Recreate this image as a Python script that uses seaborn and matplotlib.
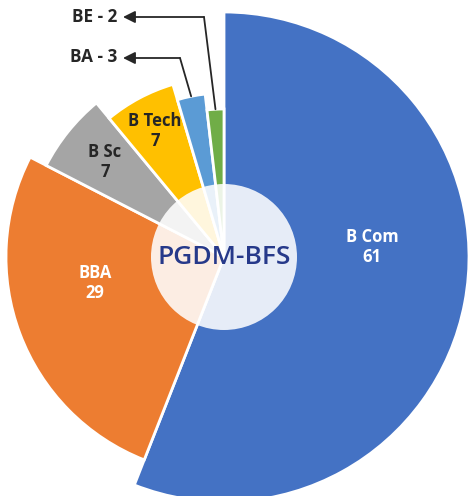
import matplotlib.pyplot as plt
import seaborn as sns
import numpy as np

sns.set_theme(style="white")
plt.rcParams['font.family'] = ['Open Sans', 'DejaVu Sans']

# Data
courses = ["B Com", "BBA", "B Sc", "B Tech", "BA", "BE"]
counts = [61, 29, 7, 7, 3, 2]
center_title = "PGDM-BFS"

# Styling
colors = ["#4472C4", "#ED7D31", "#A5A5A5", "#FFC000", "#5B9BD5", "#70AD47"]
radii = [245, 218, 200, 180, 164, 148]

fig = plt.figure(figsize=(4.70, 4.96), dpi=100)
ax = fig.add_axes([0, 0, 1, 1])

wedges, _ = ax.pie(counts, startangle=90, counterclock=False, colors=colors,
                   radius=1, wedgeprops=dict(edgecolor="white", linewidth=2))
for w, r in zip(wedges, radii):
    w.set_radius(r)

# pale centre circle
ax.add_patch(plt.Circle((0, 0), 73, facecolor="white", alpha=0.87, lw=0, zorder=3))
ax.text(0, 0, center_title, ha="center", va="center", fontsize=19,
        fontweight="semibold", color="#26398A", zorder=4)

# labels inside slices
inside = {
    "B Com": ((148, 10), "white"),
    "BBA": ((-129, -26), "white"),
    "B Sc": ((-119, 95), "#262626"),
    "B Tech": ((-69, 126), "#262626"),
}
for name, val in zip(courses, counts):
    if name in inside:
        (x, y), c = inside[name]
        ax.text(x, y, f"{name}\n{val}", ha="center", va="center", fontsize=12,
                fontweight="bold", color=c, linespacing=1.15, zorder=5)

# callouts for small slices
callouts = {"BA": ((-44, 199), 200), "BE": ((-20, 240), 240)}
cum = np.cumsum([0] + counts)
total = sum(counts)
for i, (name, val) in enumerate(zip(courses, counts)):
    if name not in callouts:
        continue
    mid = (cum[i] + cum[i + 1]) / 2 / total * 360
    ang = np.deg2rad(90 - mid)
    px, py = radii[i] * np.cos(ang), radii[i] * np.sin(ang)
    (cx, cy), ty = callouts[name]
    ax.plot([px, cx], [py, cy], color="#262626", lw=1.3, zorder=5)
    ax.annotate("", xy=(-101, cy), xytext=(cx, cy),
                arrowprops=dict(arrowstyle="-|>", color="#262626", lw=1.3,
                                mutation_scale=18, shrinkA=0, shrinkB=0), zorder=5)
    ax.text(-107, ty, f"{name} - {val}", ha="right", va="center", fontsize=12.3,
            fontweight="bold", color="#262626", zorder=5)

ax.set_xlim(-224, 246)
ax.set_ylim(-239, 257)
ax.set_aspect("equal")
ax.axis("off")

fig.savefig("out.png", dpi=100)
